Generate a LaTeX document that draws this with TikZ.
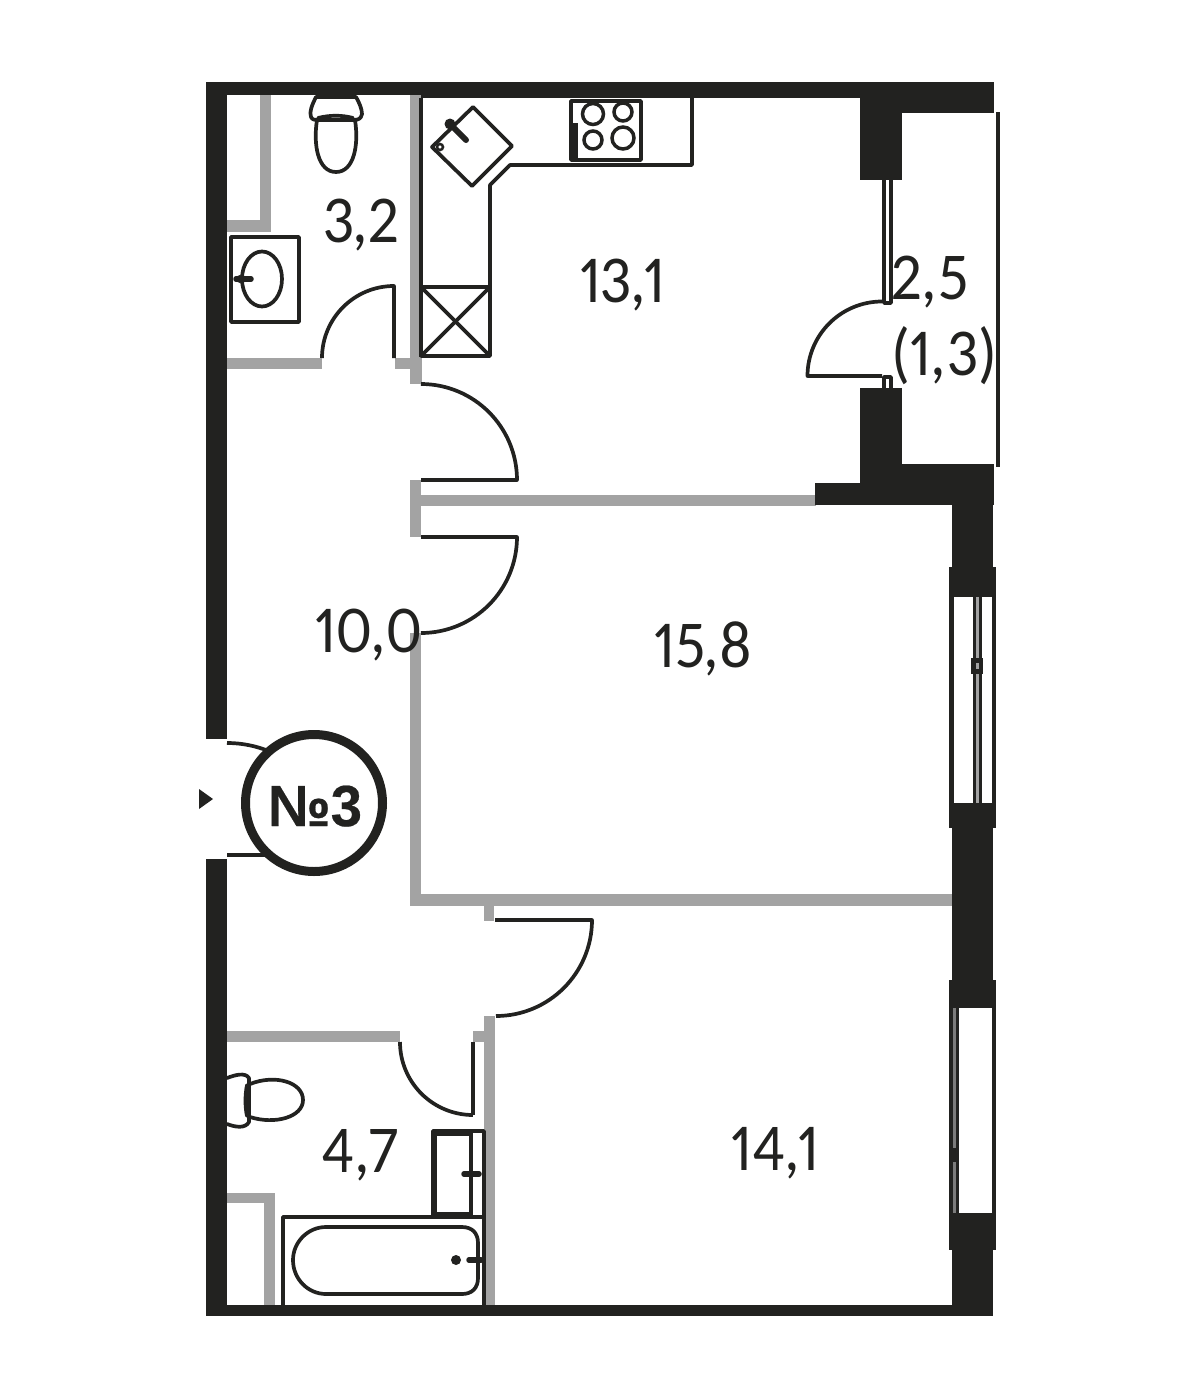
\documentclass[tikz,border=0pt]{standalone}
\usepackage{fontspec}
\setmainfont[Numbers=Proportional,FakeStretch=0.93]{Carlito}
\newfontfamily\badgefont[FakeStretch=0.97,FakeBold=0.4]{Liberation Sans Bold}
\definecolor{wallblack}{HTML}{222220}
\definecolor{wallgrey}{HTML}{A3A3A3}
\tikzset{
  blackwall/.style={fill=wallblack,draw=none},
  greywall/.style={fill=wallgrey,draw=none},
  thinline/.style={draw=wallblack,line width=3.7pt,line join=round},
  fixture/.style={draw=wallblack,line width=3.7pt,line join=round,line cap=round},
  tap/.style={draw=wallblack,line width=5.5pt,line cap=round},
  arealabel/.style={font=\fontsize{67}{67}\selectfont,text=wallblack,anchor=base,inner sep=0pt}
}
\begin{document}
\begin{tikzpicture}[x=1pt,y=-1pt]
\useasboundingbox (0,0) rectangle (1200,1400);
\fill[white] (0,0) rectangle (1200,1400);

% grey partitions
\fill[greywall] (260,95) rectangle (271,232);
\fill[greywall] (227,220) rectangle (271,232);
\fill[greywall] (410,95) rectangle (421.5,384);
\fill[greywall] (227,358) rectangle (322,369);
\fill[greywall] (395,358) rectangle (421,369);
\fill[greywall] (410,480) rectangle (421,537);
\fill[greywall] (421,495) rectangle (816,506);
\fill[greywall] (410,633) rectangle (421,906);
\fill[greywall] (410,894) rectangle (952,906);
\fill[greywall] (484,906) rectangle (494,921);
\fill[greywall] (484,1016) rectangle (495,1306);
\fill[greywall] (473,1031) rectangle (485,1042);
\fill[greywall] (227,1031) rectangle (400,1042);
\fill[greywall] (227,1193) rectangle (275,1203);
\fill[greywall] (264,1193) rectangle (275,1306);

% black walls
\fill[blackwall] (206,82) rectangle (227,739);
\fill[blackwall] (206,859) rectangle (227,1316);
\fill[blackwall] (206,1305) rectangle (993,1316);
\fill[blackwall] (206,82) rectangle (994,95);
\fill[blackwall] (421,95) rectangle (860,98);
\fill[blackwall] (860,95) rectangle (902,180);
\fill[blackwall] (902,95) rectangle (994,113);
\fill[blackwall] (860,388) rectangle (902,483);
\fill[blackwall] (815,483) rectangle (952,505);
\fill[blackwall] (860,464) rectangle (994,505);
\fill[blackwall] (952,464) rectangle (993,597);
\fill[blackwall] (949,567) rectangle (996,597);
\fill[blackwall] (949,803) rectangle (996,828);
\fill[blackwall] (952,803) rectangle (993,1008);
\fill[blackwall] (949,980) rectangle (996,1008);
\fill[blackwall] (949,1213) rectangle (996,1250);
\fill[blackwall] (952,1213) rectangle (993,1316);

% balcony glazing
\draw[wallblack,line width=3.6pt] (998,112) -- (998,467);
\fill[blackwall] (996,163) rectangle (1000,174);
\fill[blackwall] (996,404) rectangle (1000,416);

% balcony door window and door
\draw[thinline] (884,180) -- (884,303) -- (891,303) -- (891,180);
\draw[thinline] (884,388) -- (884,377) -- (891,377) -- (891,388);
\draw[thinline] (882,376) -- (807.5,376) arc[start angle=180,end angle=270,radius=74.5];

% window one
\fill[blackwall] (949,597) rectangle (953.5,803);
\fill[blackwall] (992,597) rectangle (996,803);
\fill[blackwall] (973,597) rectangle (976,803);
\fill[blackwall] (978.5,597) rectangle (982,803);
\fill[wallgrey] (976,597) rectangle (978.5,803);
\fill[blackwall] (971,658) rectangle (983,674);
\fill[wallgrey] (976,663) rectangle (978.5,669);

% window two
\fill[blackwall] (949,1008) rectangle (959,1213);
\fill[wallgrey!70!wallblack] (953,1008) rectangle (956,1213);
\fill[blackwall] (951,1148) rectangle (959,1162);
\fill[blackwall] (992,1008) rectangle (996,1213);

% toilet WC 1
\draw[fixture,fill=white] (316,97) .. controls (312,105) and (309,112) .. (311,117) .. controls (312,120) and (316,120) .. (318,120) -- (353,120) .. controls (358,120) and (361,119) .. (362,114) .. controls (362,109) and (359,102) .. (356,97) -- cycle;
\draw[fixture] (317,120) .. controls (313,145) and (318,172) .. (336,172) .. controls (354,172) and (359,145) .. (355,120);
\draw[fixture] (318,118) .. controls (330,115) and (342,115) .. (353,118);

% washbasin WC 1
\draw[thinline] (231,237) rectangle (299,322);
\draw[fixture] (262,279) ellipse[x radius=20,y radius=27.5];
\draw[tap] (236,279) -- (251,279);
\fill[wallblack] (240,279) circle[radius=4];

% WC 1 door
\draw[thinline] (322,358) arc[start angle=180,end angle=270,radius=72] -- (394,358);

% kitchen counter
\draw[thinline] (421,98) -- (421,357);
\draw[thinline] (421,287) rectangle (490,356);
\draw[thinline] (421,287) -- (490,356);
\draw[thinline] (490,287) -- (421,356);
\draw[thinline] (490,287) -- (490,185) -- (510,165) -- (692,165) -- (692,98);

% kitchen sink
\draw[fixture] (473,107) -- (512,146) -- (472,186) -- (432,147) -- cycle;
\draw[draw=wallblack,line width=6pt,line cap=round] (450,124) -- (466,140);
\fill[wallblack] (450,124) circle[radius=5.5];
\draw[wallblack,line width=2.5pt] (440,147) circle[radius=3];

% hob
\draw[thinline] (571,101) rectangle (641,160);
\fill[blackwall] (571,123) rectangle (578,160);
\draw[wallblack,line width=3.5pt] (593,114) circle[radius=10.5];
\draw[wallblack,line width=3.5pt] (623,112) circle[radius=9];
\draw[wallblack,line width=3.5pt] (593,140) circle[radius=9];
\draw[wallblack,line width=3.5pt] (623,138) circle[radius=11];

% room doors
\draw[thinline] (421,384) arc[start angle=270,end angle=360,radius=96] -- (421,480);
\draw[thinline] (421,537) -- (517,537) arc[start angle=0,end angle=90,radius=96];
\draw[thinline] (495,920) -- (592,920) arc[start angle=0,end angle=90,radius=96];
\draw[thinline] (400,1042) arc[start angle=180,end angle=90,radius=73] ;
\draw[thinline] (473,1115) -- (473,1042);

% entrance
\draw[thinline] (227,743) arc[start angle=270,end angle=300,radius=112];
\draw[thinline] (227,855) -- (270,855);
\fill[wallblack] (199,789) -- (213,799) -- (199,809) -- cycle;
\node[circle,draw=wallblack,line width=9pt,fill=white,minimum size=137pt,inner sep=0pt] (badge) at (314,803) {};
\node[font=\badgefont\fontsize{58}{58}\selectfont,text=wallblack,anchor=base,inner sep=0pt] (badgetext) at (315,826) {№3};

% toilet WC 2
\draw[fixture,fill=white] (227,1078) .. controls (235,1075) and (245,1072) .. (249,1078) -- (249,1122) .. controls (245,1129) and (235,1127) .. (227,1124);
\draw[fixture] (250,1084) .. controls (275,1074) and (303,1082) .. (303,1100) .. controls (303,1117) and (275,1125) .. (250,1117);
\draw[fixture] (247,1085) .. controls (245,1095) and (245,1107) .. (247,1116);

% washbasin WC 2
\draw[thinline] (433,1131) rectangle (484,1217);
\draw[draw=wallblack,line width=4.5pt] (435,1134) rectangle (471,1214);
\draw[tap] (464,1174) -- (479,1174);

% bath
\draw[thinline] (283,1305) -- (283,1217) -- (484,1217) -- (484,1305);
\draw[fixture] (326,1227) -- (462,1227) .. controls (472,1227) and (478,1233) .. (478,1243) -- (478,1278) .. controls (478,1288) and (472,1294) .. (462,1294) -- (326,1294) .. controls (308,1294) and (293,1279) .. (293,1260) .. controls (293,1242) and (308,1227) .. (326,1227) -- cycle;
\fill[wallblack] (456,1260) circle[radius=5];
\draw[tap] (469,1260) -- (481,1260);

% areas
\node[arealabel] (a32) at (361,242) {3,2};
\node[arealabel] (a131) at (622,302) {13,1};
\node[arealabel] (a25) at (930,299) {2,5};
\node[arealabel] (a13) at (944,375) {(1,3)};
\node[arealabel] (a100) at (368,652) {10,0};
\node[arealabel] (a158) at (703,667) {15,8};
\node[arealabel] (a141) at (775,1170) {14,1};
\node[arealabel] (a47) at (360,1172) {4,7};
\end{tikzpicture}
\end{document}
